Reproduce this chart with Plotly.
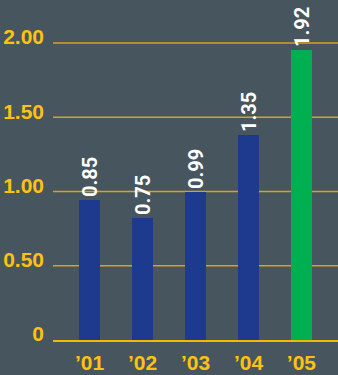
import plotly.graph_objects as go

# Data
years = ["’01", "’02", "’03", "’04", "’05"]
values = [0.85, 0.75, 0.99, 1.35, 1.92]          # printed value labels
bar_heights = [0.94, 0.82, 1.00, 1.38, 1.95]     # bar heights as drawn in the picture
bar_colors = ["#1E3A8F", "#1E3A8F", "#1E3A8F", "#1E3A8F", "#00B050"]
y_tickvals = [0, 0.5, 1.0, 1.5, 2.0]
y_ticktext = ["0", "0.50", "1.00", "1.50", "2.00"]

BG = "#47555E"
YEL = "#FFC20E"
GRID = "#D6A418"

fig = go.Figure(go.Bar(
    x=list(range(len(years))),
    y=bar_heights,
    width=0.4,
    marker=dict(color=bar_colors, line=dict(width=0)),
    text=[f"{v:.2f}" for v in values],
    texttemplate="<b>%{text}</b>",
    textposition="outside",
    textangle=-90,
    constraintext="none",
    textfont=dict(family="Roboto", size=20, color="white"),
    cliponaxis=False,
    hoverinfo="skip",
))

# gridlines at the y tick values, drawn in gold
for v in y_tickvals[1:]:
    fig.add_hline(y=v, line=dict(color=GRID, width=1.3), layer="below")

fig.update_layout(
    template="none",
    width=338, height=375,
    margin=dict(l=53, r=0, t=13, b=35),
    paper_bgcolor=BG, plot_bgcolor=BG,
    showlegend=False,
    bargap=0,
)
fig.update_xaxes(
    range=[-0.69, 4.69],
    tickvals=list(range(len(years))),
    ticktext=[f"<b>{y}</b>" for y in years],
    tickfont=dict(family="Liberation Sans", size=21, color=YEL),
    showgrid=False, zeroline=False,
    showline=True, linecolor="#F5B800", linewidth=2,
    ticks="", ticklabelstandoff=3,
    fixedrange=True,
)
fig.update_yaxes(
    range=[0, 2.202],
    tickvals=y_tickvals,
    ticktext=[f"<b>{t}</b>" for t in y_ticktext],
    tickfont=dict(family="Liberation Sans", size=21, color=YEL),
    showgrid=False,
    zeroline=False, ticks="", showline=False,
    ticklabelstandoff=8, ticklabelshift=-6,
    fixedrange=True,
)

fig.write_html("out.html")
